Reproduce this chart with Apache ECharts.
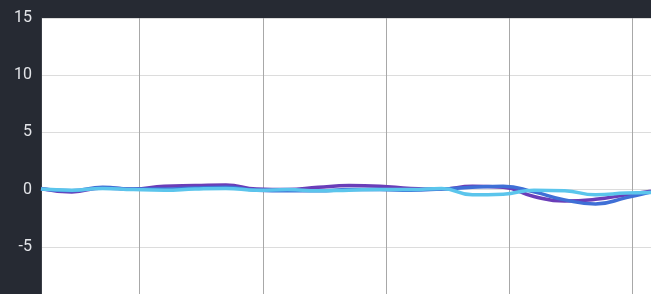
<!DOCTYPE html>
<html>
<head>
<meta charset="utf-8">
<script src="https://cdn.jsdelivr.net/npm/echarts@6/dist/echarts.min.js"></script>
<style>
  html, body { margin: 0; padding: 0; background: #262a33; }
  #chart { width: 651px; height: 294px; }
</style>
</head>
<body>
<div id="chart"></div>
<script>
// Sample times (s) shared by all series
var times = [-8, -5.5, -3, -0.5, 2, 4.5, 7, 9.5, 12, 14.5, 17, 19.5, 22, 24.5, 27, 29.5, 32, 34.5, 37, 39.5, 41.5];

// Values
var purpleValues = [0.1, -0.2, 0.15, 0.05, 0.3, 0.35, 0.4, 0.05, 0, 0.2, 0.35, 0.3, 0.1, 0.05, 0.3, 0.2, -0.6, -1.0, -0.85, -0.45, -0.15];
var blueValues = [0.05, -0.1, 0.2, 0.05, 0.05, 0.15, 0.2, -0.05, -0.1, -0.1, 0, 0, -0.05, 0.05, 0.2, 0.3, -0.2, -0.9, -1.25, -0.7, -0.2];
var lightBlueValues = [0.05, -0.05, 0.1, 0, -0.05, 0.05, 0.1, -0.05, 0, -0.1, -0.05, 0, 0, 0.1, -0.45, -0.4, -0.05, -0.1, -0.45, -0.3, -0.25];

var yTicks = [-10, -5, 0, 5, 10, 15];

function pairs(values) {
    return values.map(function (v, i) { return [times[i], v]; });
}

var chart = echarts.init(document.getElementById('chart'));

var option = {
    backgroundColor: '#262a33',
    animation: false,
    grid: {
        left: 41,
        top: 18,
        right: 0,
        height: 286,
        containLabel: false,
        outerBoundsMode: 'none',
        show: true,
        backgroundColor: '#ffffff',
        borderWidth: 0
    },
    xAxis: {
        type: 'value',
        min: times[0],
        max: times[times.length - 1],
        axisLine: { show: false },
        axisTick: { show: false },
        axisLabel: { show: false },
        splitLine: { lineStyle: { color: '#a8a8a8', width: 1 } }
    },
    yAxis: {
        type: 'value',
        min: yTicks[0],
        max: yTicks[yTicks.length - 1],
        interval: 5,
        axisLine: { show: true, onZero: false, lineStyle: { color: '#3a3e46', width: 1 } },
        axisTick: { show: false },
        axisLabel: {
            color: '#e2e4e8',
            fontSize: 16,
            fontFamily: 'Roboto',
            margin: 9
        },
        splitLine: { lineStyle: { color: '#dcdcdc', width: 1 } }
    },
    series: [
        {
            type: 'line',
            data: pairs(purpleValues),
            smooth: true,
            showSymbol: false,
            lineStyle: { color: '#6a3db8', width: 3.5 }
        },
        {
            type: 'line',
            data: pairs(blueValues),
            smooth: true,
            showSymbol: false,
            lineStyle: { color: '#3f6fd6', width: 3.5 }
        },
        {
            type: 'line',
            data: pairs(lightBlueValues),
            smooth: true,
            showSymbol: false,
            lineStyle: { color: '#5bc5ec', width: 3.5 }
        }
    ]
};
chart.setOption(option);
</script>
</body>
</html>
